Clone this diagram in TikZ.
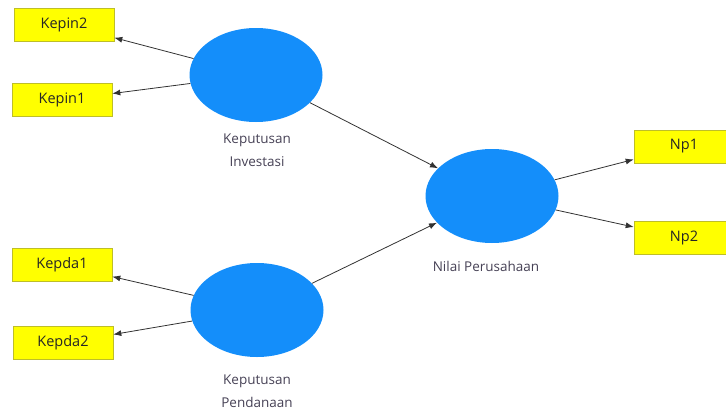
\documentclass[tikz,border=0pt]{standalone}
\usepackage{fontspec}
\setmainfont{Open Sans}
\usetikzlibrary{arrows.meta,shapes.geometric}
\definecolor{latent}{RGB}{20,142,250}
\definecolor{indik}{RGB}{255,255,0}
\definecolor{indikline}{RGB}{190,190,40}
\definecolor{labelgray}{RGB}{70,65,85}
\definecolor{arrowgray}{RGB}{50,50,50}
\begin{document}
\begin{tikzpicture}[x=1pt,y=-1pt,
  latentvar/.style={fill=latent,draw=none,shape=ellipse,minimum width=133pt,minimum height=94pt,inner sep=0pt},
  indicator/.style={fill=indik,draw=indikline,line width=0.6pt,shape=rectangle,minimum width=100pt,minimum height=33pt,inner sep=0pt,font=\fontsize{14.5}{16}\selectfont,text=black!85},
  varlabel/.style={align=center,font=\fontsize{13.5}{23.5}\selectfont,text=labelgray},
  path/.style={-{Latex[length=8pt,width=6pt]},arrowgray,line width=0.8pt}]
\useasboundingbox (0,0) rectangle (726,410);
% latent variables
\node[latentvar](KI) at (256,75){};
\node[latentvar](KP) at (257,310){};
\node[latentvar](NP) at (492,196){};
\node[varlabel](KIlab) at (257,150){Keputusan\\Investasi};
\node[varlabel](KPlab) at (257,391){Keputusan\\Pendanaan};
\node[varlabel](NPlab) at (486,266){Nilai Perusahaan};
% indicators
\node[indicator](Kepin2) at (64,24.5){Kepin2};
\node[indicator](Kepin1) at (62,100){Kepin1};
\node[indicator](Kepda1) at (62,265){Kepda1};
\node[indicator](Kepda2) at (63,343){Kepda2};
\node[indicator](Np1) at (684,146.5){Np1};
\node[indicator](Np2) at (684,238){Np2};
% paths
\draw[path] (KI) -- (Kepin2);
\draw[path] (KI) -- (Kepin1);
\draw[path] (KP) -- (Kepda1);
\draw[path] (KP) -- (Kepda2);
\draw[path] (KI) -- (NP);
\draw[path] (KP) -- (NP);
\draw[path] (NP) -- (Np1);
\draw[path] (NP) -- (Np2);
\end{tikzpicture}
\end{document}
